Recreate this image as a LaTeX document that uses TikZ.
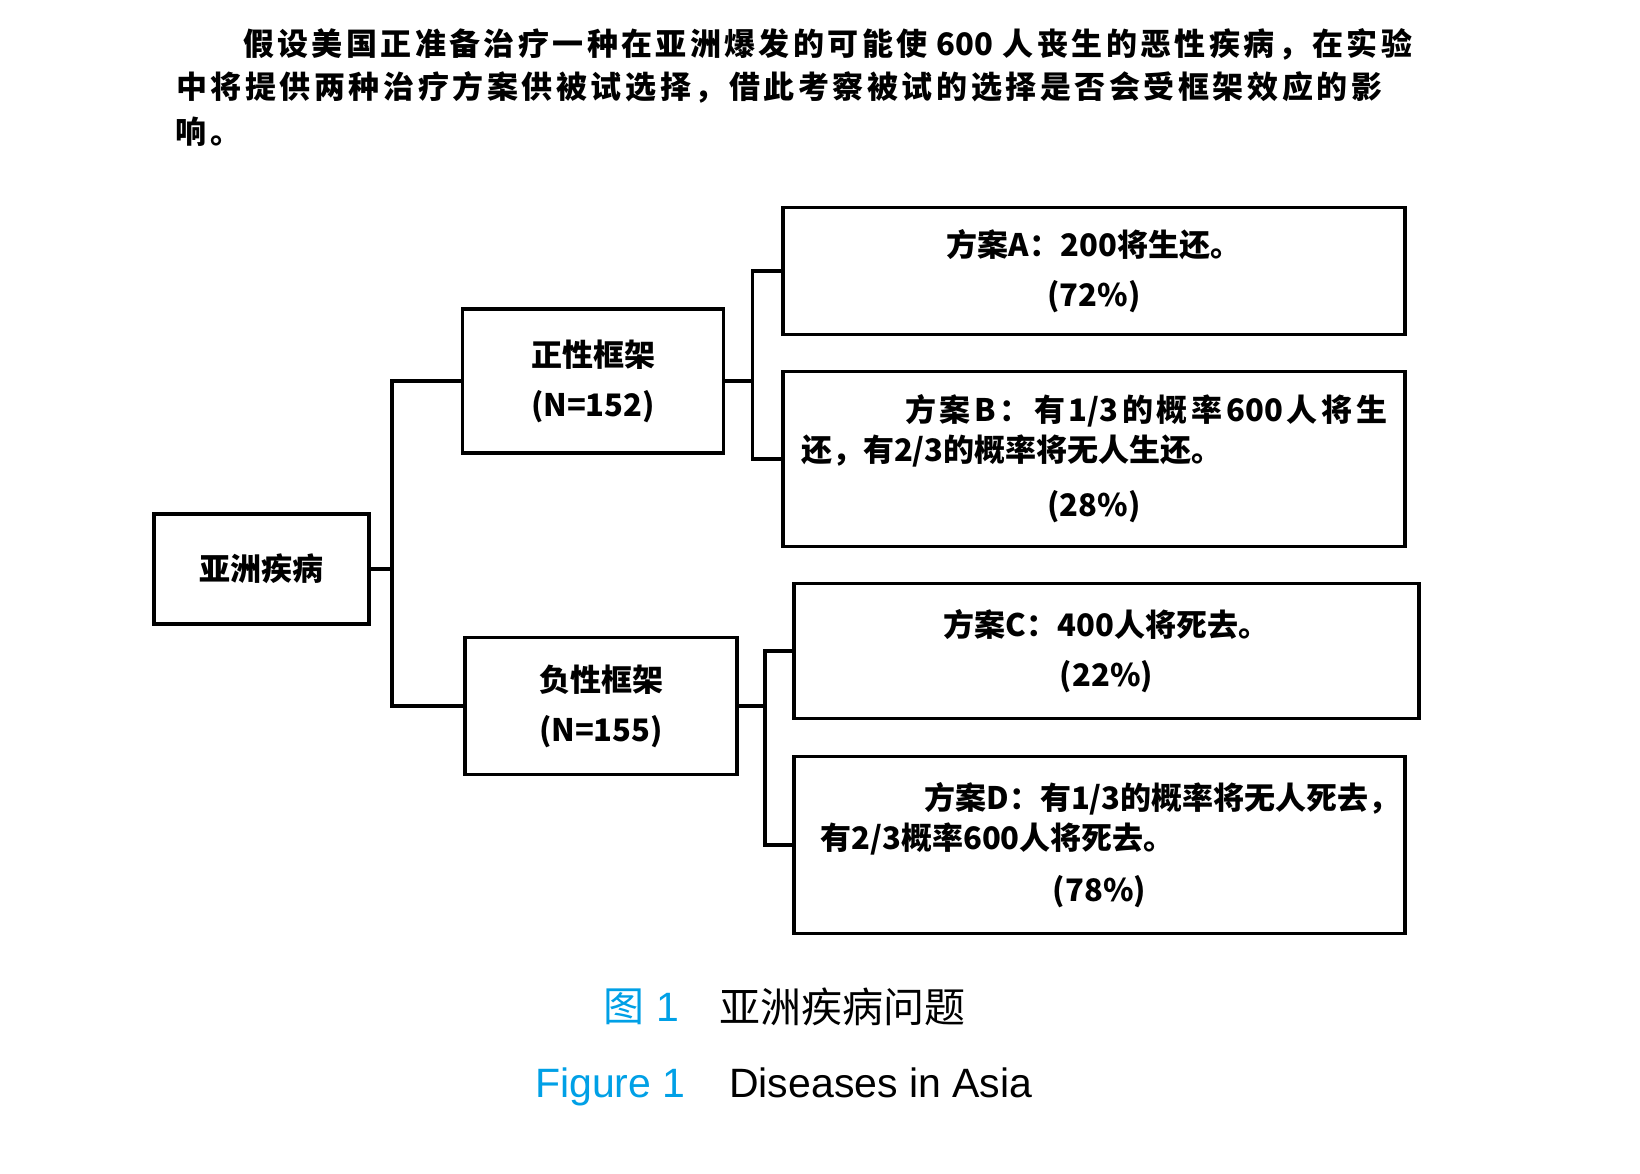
\documentclass[tikz,border=0pt]{standalone}
\usepackage{fontspec}
\newfontfamily\cjk{Noto Sans CJK SC}
\newfontfamily\capsans{Liberation Sans}
\definecolor{capblue}{RGB}{0,160,230}
\def\spreadtext#1{\spreadfirst#1\relax}
\def\spreadfirst#1{#1\spreadnext}
\def\spreadnext#1{\ifx#1\relax\else\hfil#1\expandafter\spreadnext\fi}
\begin{document}
\begin{tikzpicture}[x=1pt,y=-1pt,
  box/.style={draw=black, line width=3.8pt, inner sep=0pt, align=center,
    font=\cjk\bfseries\fontsize{31}{50}\selectfont},
  boxtight/.style={box, font=\cjk\bfseries\fontsize{31}{40}\selectfont},
  conn/.style={draw=black, line width=3.6pt},
  para/.style={inner sep=0pt, font=\cjk\bfseries\fontsize{31}{31}\selectfont},
  capcn/.style={inner sep=0pt, font=\cjk\fontsize{41}{41}\selectfont},
  capen/.style={inner sep=0pt, font=\capsans\fontsize{41}{41}\selectfont}]
\fill[white] (0,0) rectangle (1640,1173);
\useasboundingbox (0,0) rectangle (1640,1173);

% paragraph
\node[para, anchor=west] (p1) at (243,44)
  {\makebox[1169pt][s]{\spreadtext{假设美国正准备治疗一种在亚洲爆发的可能使{\hspace{6pt}600\hspace{6pt}}人丧生的恶性疾病，在实验}}};
\node[para, anchor=west] (p2) at (176,87)
  {\makebox[1206pt][s]{\spreadtext{中将提供两种治疗方案供被试选择，借此考察被试的选择是否会受框架效应的影}}};
\node[para, anchor=west] (p3) at (175,132) {响\hspace{4pt}。};

% boxes
\node[box, minimum width=215pt, minimum height=110pt] (root) at (261.5,569) {亚洲疾病};
\node[box, minimum width=261pt, minimum height=144pt] (pos) at (593,381) {正性框架\\(N=152)};
\node[box, minimum width=272pt, minimum height=137pt] (neg) at (601,706) {负性框架\\(N=155)};
\node[box, minimum width=622pt, minimum height=127pt] (A) at (1094,271) {方案A：200将生还。\\(72\%)};
\node[boxtight, minimum width=622pt, minimum height=175pt] (B) at (1094,459)
  {\makebox[586pt][s]{\hspace*{104pt}\spreadtext{方案B：有{1/3}的概率{600}人将生}}\\
   \makebox[586pt][l]{还，有2/3的概率将无人生还。}\\[15pt]
   (28\%)};
\node[box, minimum width=625pt, minimum height=135pt] (C) at (1106.5,651) {方案C：400人将死去。\\(22\%)};
\node[boxtight, minimum width=611pt, minimum height=177pt] (D) at (1099.5,845)
  {\makebox[558pt][l]{\hspace*{104pt}方案D：有1/3的概率将无人死去，}\\
   \makebox[558pt][l]{有2/3概率600人将死去。}\\[12pt]
   (78\%)};

% connectors
\path (root.east) ++(21,0) coordinate (t1);
\path (pos.east) ++(27,0) coordinate (t2);
\path (neg.east) ++(26,0) coordinate (t3);
\draw[conn] (root.east) -- (t1);
\draw[conn] (pos.west) -| (t1) |- (neg.west);
\draw[conn] (pos.east) -- (t2);
\draw[conn] (A.west) -| (t2) |- (B.west);
\draw[conn] (neg.east) -- (t3);
\draw[conn] (C.west) -| (t3) |- (D.west);

% caption
\node[capcn, anchor=west, text=capblue] (c1) at (603,1007) {图\hspace{12pt}{\capsans 1}};
\node[capcn, anchor=west] (c2) at (719,1007) {亚洲疾病问题};
\node[capen, anchor=base west, text=capblue] (f1) at (535,1097) {Figure 1};
\node[capen, anchor=base west] (f2) at (729,1097) {Diseases in Asia};
\end{tikzpicture}
\end{document}
